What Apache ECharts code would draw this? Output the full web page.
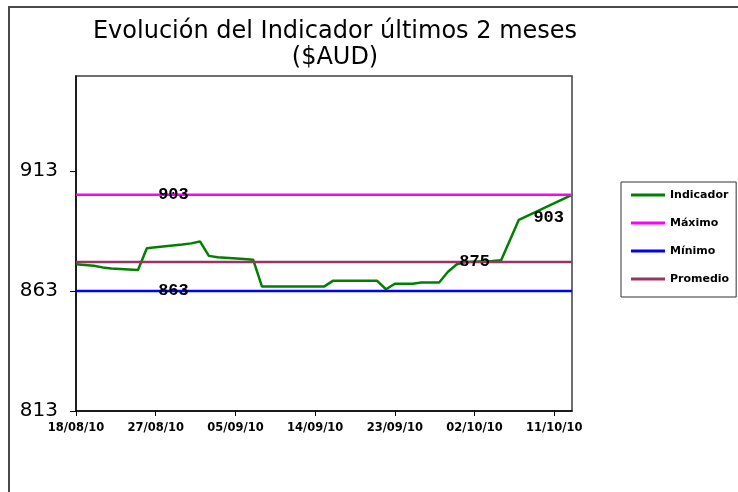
<!DOCTYPE html>
<html>
<head>
<meta charset="utf-8">
<script src="https://cdn.jsdelivr.net/npm/echarts@6/dist/echarts.min.js"></script>
<style>
  html, body { margin: 0; padding: 0; background: #fff; }
  #chart { width: 738px; height: 492px; }
</style>
</head>
<body>
<div id="chart"></div>
<script>
// x axis runs one category per day, 18/08/10 .. 13/10/10
const startDate = Date.UTC(2010, 7, 18);
const dayCount = 57;
const yTicks = [813, 863, 913];

// Indicador vertices
const indicadorDates = [
  "18/08/10", "20/08/10", "21/08/10", "22/08/10", "25/08/10", "26/08/10",
  "27/08/10", "30/08/10", "31/08/10", "01/09/10", "02/09/10", "03/09/10",
  "06/09/10", "07/09/10", "08/09/10", "15/09/10", "16/09/10", "21/09/10",
  "22/09/10", "23/09/10", "25/09/10", "26/09/10", "28/09/10", "29/09/10",
  "30/09/10", "01/10/10", "04/10/10", "05/10/10", "07/10/10", "13/10/10"
];
const indicadorValues = [
  874.1, 873.5, 872.8, 872.3, 871.7, 880.8,
  881.2, 882.3, 882.8, 883.6, 877.6, 877.0,
  876.3, 876.0, 864.8, 864.8, 867.2, 867.2,
  863.7, 866.0, 866.0, 866.5, 866.5, 871.0,
  874.1, 875.0, 875.5, 875.8, 892.6, 903.0
];

const maximo = 903;
const minimo = 863;
const promedio = 875;

// where each reference line carries its value label
const maximoLabelDate = "29/08/10";
const minimoLabelDate = "29/08/10";
const promedioLabelDate = "02/10/10";

const categories = [];
for (let i = 0; i < dayCount; i++) {
  const d = new Date(startDate + i * 86400000);
  const dd = String(d.getUTCDate()).padStart(2, "0");
  const mm = String(d.getUTCMonth() + 1).padStart(2, "0");
  const yy = String(d.getUTCFullYear()).slice(2);
  categories.push(dd + "/" + mm + "/" + yy);
}
const firstDate = categories[0];
const lastDate = categories[categories.length - 1];

const valueLabel = {
  show: true,
  position: "inside",
  fontFamily: "Liberation Mono",
  fontWeight: "bold",
  fontSize: 17,
  color: "#000",
  formatter: (p) => String(Math.round(p.value[1]))
};

function flatLine(value, labelDate) {
  return [
    [firstDate, value],
    { value: [labelDate, value], label: valueLabel },
    [lastDate, value]
  ];
}

const indicadorData = indicadorDates.map((d, i) => [d, indicadorValues[i]]);
indicadorData[indicadorData.length - 1] = {
  value: indicadorData[indicadorData.length - 1],
  label: Object.assign({}, valueLabel, { position: "left", distance: 8, offset: [0, 23] })
};

function lineSeries(name, color, data) {
  return {
    name: name,
    type: "line",
    data: data,
    showSymbol: true,
    symbol: "circle",
    symbolSize: 0,
    itemStyle: { color: color },
    lineStyle: { color: color, width: 2.5 },
    animation: false,
    emphasis: { disabled: true }
  };
}

const chart = echarts.init(document.getElementById("chart"));
chart.setOption({
  backgroundColor: "#fff",
  animation: false,
  grid: { left: 76, top: 76, right: 166, bottom: 81, show: true, borderColor: "#404040", borderWidth: 1.5 },
  graphic: [
    {
      type: "rect",
      shape: { x: 9, y: 7, width: 800, height: 560 },
      style: { fill: null, stroke: "#4a4a4a", lineWidth: 2 },
      silent: true
    },
    {
      type: "text",
      x: 335,
      y: 19,
      style: {
        text: "Evolución del Indicador últimos 2 meses\n($AUD)",
        fontFamily: "DejaVu Sans",
        fontSize: 24,
        lineHeight: 26,
        textAlign: "center",
        fill: "#000"
      }
    }
  ],
  legend: {
    orient: "vertical",
    left: 621,
    top: 182,
    padding: [7, 7, 12, 10],
    itemWidth: 34,
    itemHeight: 3,
    itemGap: 16,
    icon: "rect",
    backgroundColor: "#fff",
    borderColor: "#333",
    borderWidth: 1,
    textStyle: { fontFamily: "DejaVu Sans", fontWeight: "bold", fontSize: 11, lineHeight: 12, color: "#000" },
    data: ["Indicador", "Máximo", "Mínimo", "Promedio"]
  },
  xAxis: {
    type: "category",
    data: categories,
    boundaryGap: false,
    axisLine: { lineStyle: { color: "#000", width: 1.5 } },
    axisTick: { interval: 8, length: 5, lineStyle: { color: "#000" } },
    axisLabel: {
      interval: 8,
      margin: 11,
      fontFamily: "DejaVu Sans",
      fontWeight: "bold",
      fontSize: 11.5,
      color: "#000"
    }
  },
  yAxis: {
    type: "value",
    min: 813,
    max: 952.5,
    splitLine: { show: false },
    axisLine: { show: true, lineStyle: { color: "#000", width: 1.5 } },
    axisTick: { show: true, length: 6, customValues: yTicks, lineStyle: { color: "#000" } },
    axisLabel: {
      customValues: yTicks,
      margin: 18,
      fontFamily: "DejaVu Sans",
      fontSize: 20,
      color: "#000"
    }
  },
  series: [
    lineSeries("Indicador", "#008000", indicadorData),
    lineSeries("Máximo", "#ff00ff", flatLine(maximo, maximoLabelDate)),
    lineSeries("Mínimo", "#0000ff", flatLine(minimo, minimoLabelDate)),
    lineSeries("Promedio", "#993366", flatLine(promedio, promedioLabelDate))
  ]
});
</script>
</body>
</html>
